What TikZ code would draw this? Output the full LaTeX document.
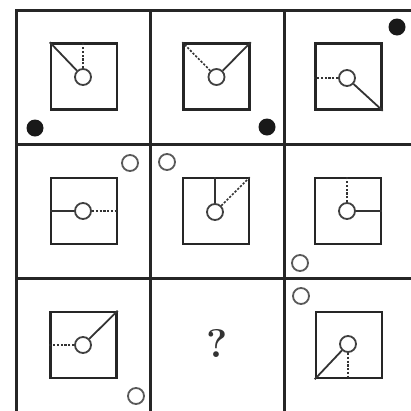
\documentclass[tikz,border=0pt]{standalone}
\begin{document}
\begin{tikzpicture}[x=1pt,y=-1pt,
  gridline/.style={line width=3pt,draw=black!85},
  box/.style={draw=black!85,line width=2.5pt,rectangle,minimum size=66pt,inner sep=0pt},
  hub/.style={draw=black!75,line width=1.8pt,circle,minimum size=16pt,inner sep=0pt,fill=white},
  solidarm/.style={draw=black!80,line width=1.8pt},
  dasharm/.style={draw=black!80,line width=1.6pt,dash pattern=on 2.2pt off 1.6pt},
  blackdot/.style={circle,fill=black!90,minimum size=17pt,inner sep=0pt},
  ring/.style={circle,draw=black!65,line width=1.8pt,minimum size=16pt,inner sep=0pt}]
\useasboundingbox (0,0) rectangle (411,410);
\fill[white] (0,0) rectangle (411,410);
\clip (0,0) rectangle (411,410);
% grid
\draw[gridline] (16,10) rectangle (420,414);
\draw[gridline] (150,10) -- (150,414);
\draw[gridline] (284,10) -- (284,414);
\draw[gridline] (16,144) -- (420,144);
\draw[gridline] (16,278) -- (420,278);
% row 1
\node[box] (b11) at (84,76.5) {};
\node[hub] (c11) at (83,77) {};
\draw[solidarm] (c11) -- (b11.north west);
\draw[dasharm] (c11) -- (c11 |- b11.north);
\node[blackdot] (d11) at (35,128) {};

\node[box] (b12) at (216.5,76.5) {};
\node[hub] (c12) at (216.5,77) {};
\draw[dasharm] (c12) -- (b12.north west);
\draw[solidarm] (c12) -- (b12.north east);
\node[blackdot] (d12) at (267,127) {};

\node[box] (b13) at (348.5,76.5) {};
\node[hub] (c13) at (347,78) {};
\draw[dasharm] (c13) -- (c13 -| b13.west);
\draw[solidarm] (c13) -- (b13.south east);
\node[blackdot] (d13) at (397,27) {};

% row 2
\node[box] (b21) at (84,211) {};
\node[hub] (c21) at (83,211) {};
\draw[solidarm] (c21) -- (c21 -| b21.west);
\draw[dasharm] (c21) -- (c21 -| b21.east);
\node[ring] (r21) at (130,163) {};

\node[box] (b22) at (216,211) {};
\node[hub] (c22) at (215,212) {};
\draw[solidarm] (c22) -- (c22 |- b22.north);
\draw[dasharm] (c22) -- (b22.north east);
\node[ring] (r22) at (167,162) {};

\node[box] (b23) at (348,211) {};
\node[hub] (c23) at (347,211) {};
\draw[dasharm] (c23) -- (c23 |- b23.north);
\draw[solidarm] (c23) -- (c23 -| b23.east);
\node[ring] (r23) at (300,263) {};

% row 3
\node[box] (b31) at (83.5,345) {};
\node[hub] (c31) at (83,345) {};
\draw[dasharm] (c31) -- (c31 -| b31.west);
\draw[solidarm] (c31) -- (b31.north east);
\node[ring] (r31) at (136,396) {};

\node[font=\fontsize{40}{40}\selectfont\bfseries,text=black!80] (q) at (217,343) {?};

\node[box] (b33) at (349,345) {};
\node[hub] (c33) at (348,344) {};
\draw[solidarm] (c33) -- (b33.south west);
\draw[dasharm] (c33) -- (c33 |- b33.south);
\node[ring] (r33) at (301,296) {};
\end{tikzpicture}
\end{document}
